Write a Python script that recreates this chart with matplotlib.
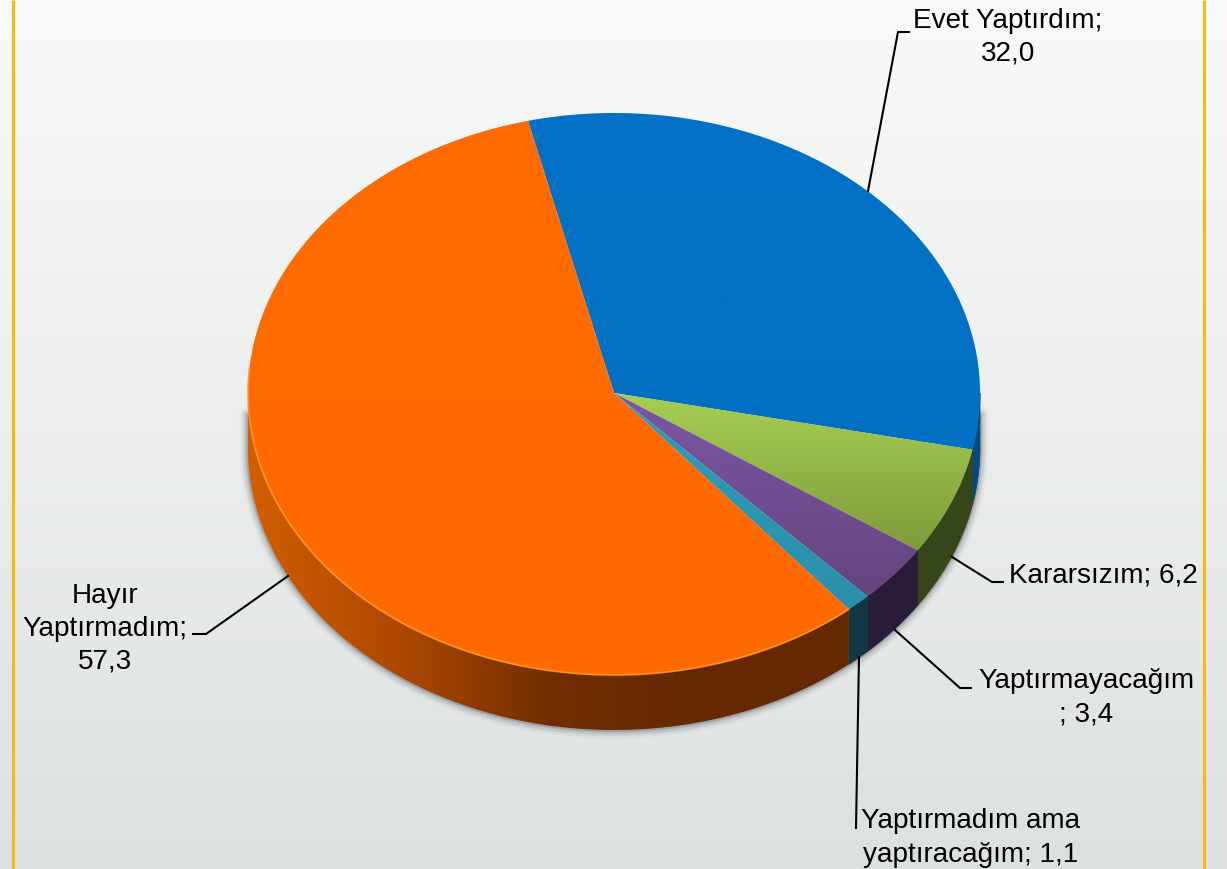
import numpy as np
import matplotlib
matplotlib.use("Agg")
import matplotlib.pyplot as plt
from matplotlib.colors import LinearSegmentedColormap
from matplotlib.patches import Polygon

plt.rcParams['font.family'] = ['Liberation Sans', 'DejaVu Sans']

# data
categories = ["Evet Yaptırdım", "Kararsızım", "Yaptırmayacağım", "Yaptırmadım ama yaptıracağım", "Hayır Yaptırmadım"]
values = [32.0, 6.2, 3.4, 1.1, 57.3]
label_texts = ["Evet Yaptırdım;\n32,0", "Kararsızım; 6,2", "Yaptırmayacağım\n; 3,4",
               "Yaptırmadım ama\nyaptıracağım; 1,1", "Hayır\nYaptırmadım;\n57,3"]

# colours of top face (top and bottom of the gradient), then of the wall
top_colors = [("#0272c6", "#0270c2"), ("#a6cf52", "#7f9b3a"), ("#7c57a4", "#64447f"),
              ("#2f9dbb", "#2b8fab"), ("#ff6c02", "#ff6a00")]
wall_colors = ["#004a80", "#36451a", "#281c38", "#123844", None]
orange_wall = ["#d25e00", "#ad4800", "#722e00", "#652800", "#652800"]

# label position, then leader line
label_pos = [(1008, 37), (1103, 576), (1086, 698), (971, 838), (105, 629)]
leaders = [[(868, 191), (898, 32), (909, 32)],
           [(952, 557), (992, 582), (1003, 582)],
           [(895, 630), (960, 688), (971, 688)],
           [(859, 657), (856, 828)],
           [(288, 576), (206, 634), (193, 634)]]

W, H = 1227, 869
CX, CY = 614, 393
RX = 366
RY_UP, RY_DOWN = 280, 282
DEPTH = 55
START = -13.6


def ring(a0, a1, dy=0.0):
    t = np.radians(np.linspace(a0, a1, max(int(abs(a1 - a0) * 2), 2)))
    ry = np.where(np.cos(t) > 0, RY_UP, RY_DOWN)
    return np.column_stack([CX + RX * np.sin(t), CY - ry * np.cos(t) + dy])


def gradient_fill(ax, verts, colors, horizontal=False, zorder=3):
    xs, ys = verts[:, 0], verts[:, 1]
    cmap = LinearSegmentedColormap.from_list("g", colors)
    ramp = np.linspace(0, 1, 256)
    img = ramp.reshape(1, -1) if horizontal else ramp.reshape(-1, 1)
    im = ax.imshow(img, cmap=cmap, extent=(xs.min(), xs.max(), ys.max(), ys.min()),
                   aspect="auto", zorder=zorder, interpolation="bilinear")
    clip = Polygon(verts, closed=True, transform=ax.transData, fc="none", ec="none")
    ax.add_patch(clip)
    im.set_clip_path(clip)
    return im


fig = plt.figure(figsize=(W / 100, H / 100), dpi=100)
ax = fig.add_axes([0, 0, 1, 1])

# background
bg = LinearSegmentedColormap.from_list("bg", ["#f9fafa", "#eceeee", "#dde0e1"])
ax.imshow(np.linspace(0, 1, 256).reshape(-1, 1), cmap=bg, extent=(0, W, H, 0), aspect="auto", zorder=0)
for x in (12.7, 1203.5):
    ax.plot([x, x], [0, H], color="#fbb90f", lw=2.2, zorder=1, solid_capstyle="butt")

# soft shadow, only round the lower part of the pie
outline = ring(90, 270, DEPTH)
outline = np.vstack([outline[0] - [0, DEPTH - 22], outline, outline[-1] - [0, DEPTH - 22]])
for lw, alpha in zip([12, 9, 7, 4, 2.5], [0.03, 0.05, 0.07, 0.10, 0.14]):
    ax.plot(outline[:, 0], outline[:, 1], color="#202020", lw=lw, alpha=alpha, zorder=2,
            solid_capstyle="round")

# walls and top faces
angles = START + np.cumsum([0] + values) * 3.6
for i in range(len(values)):
    a0, a1 = angles[i], angles[i + 1]
    # only the part facing the viewer has a wall
    w0, w1 = max(a0, 90), min(a1, 270)
    if w1 > w0:
        wall = np.vstack([ring(w0, w1), ring(w0, w1, DEPTH)[::-1]])
        if wall_colors[i] is None:
            gradient_fill(ax, wall, orange_wall, horizontal=True, zorder=3)
        else:
            ax.add_patch(Polygon(wall, closed=True, fc=wall_colors[i], ec=wall_colors[i], lw=0.5, zorder=3))
    top = np.vstack([[(CX, CY)], ring(a0, a1)])
    gradient_fill(ax, top, top_colors[i], zorder=4)

# rim highlight on the orange
rim = ring(angles[4], 275)
ax.plot(rim[:, 0], rim[:, 1], color="#ff9a2a", lw=1.3, alpha=0.8, zorder=5)

# leaders and labels
for pts in leaders:
    xs, ys = zip(*pts)
    ax.plot(xs, ys, color="black", lw=1.5, zorder=6, solid_joinstyle="miter")
for txt, (x, y) in zip(label_texts, label_pos):
    ax.text(x, y, txt, ha="center", va="center", fontsize=20.1, color="black",
            linespacing=1.35, zorder=7)

ax.set_xlim(0, W)
ax.set_ylim(H, 0)
ax.axis("off")
fig.savefig("out.png", dpi=100)
